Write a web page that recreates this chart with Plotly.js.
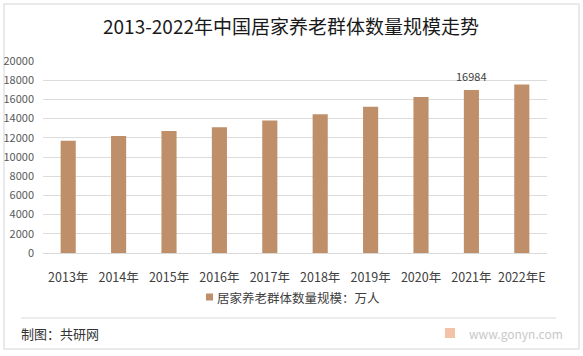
<!DOCTYPE html>
<html>
<head>
<meta charset="utf-8">
<script src="https://cdn.plot.ly/plotly-3.0.1.min.js"></script>
<style>html,body{margin:0;padding:0;background:#fff;}#chart{width:583px;height:356px;}</style>
</head>
<body>
<div id="chart"></div>
<script>
var categories = ["2013年","2014年","2015年","2016年","2017年","2018年","2019年","2020年","2021年","2022年E"];
var values = [11700, 12200, 12700, 13100, 13800, 14450, 15230, 16240, 16984, 17550];
var seriesName = "居家养老群体数量规模：万人";
var labelledIndex = 8;
var yTicks = [0,2000,4000,6000,8000,10000,12000,14000,16000,18000,20000];

var W = 583, H = 356, L = 43, R = 36, T = 61, B = 103;
var pw = W - L - R, ph = H - T - B;
function px(x){ return (x - L) / pw; }
function py(y){ return (H - B - y) / ph; }

var font = "'Noto Sans CJK SC', 'Noto Sans', sans-serif";
var barColor = "#BF8F6A";

var trace = {
  type: "bar",
  x: categories,
  y: values,
  name: seriesName,
  marker: {color: barColor},
  width: 0.3,
  showlegend: false
};

var layout = {
  width: W, height: H,
  margin: {l: L, r: R, t: T, b: B, pad: 0},
  paper_bgcolor: "#fff",
  plot_bgcolor: "#fff",
  font: {family: font, size: 12, color: "#404040"},
  title: {text: "2013-2022年中国居家养老群体数量规模走势", font: {size: 19, color: "#1a1a1a", family: font},
          x: px(291), xref: "paper", xanchor: "center", y: 1 - 27 / H, yanchor: "middle"},
  xaxis: {type: "category", showgrid: false, showline: true, linecolor: "#d9d9d9", linewidth: 1,
          ticks: "", ticklabelstandoff: 13, tickfont: {size: 12.5, color: "#404040"}, fixedrange: true},
  yaxis: {range: [0, 20000], tickvals: yTicks, ticktext: yTicks.map(String), showgrid: true,
          gridcolor: "#dcdcdc", gridwidth: 1, zeroline: false, showline: false, ticks: "",
          ticklabelstandoff: 8, tickfont: {size: 11, color: "#595959"}, fixedrange: true},
  bargap: 0.7,
  showlegend: false,
  annotations: [
    {x: categories[labelledIndex], y: values[labelledIndex], xref: "x", yref: "y", text: String(values[labelledIndex]),
     showarrow: false, yanchor: "bottom", yshift: 4, font: {size: 11, color: "#404040"}},
    {x: px(215), y: py(297), xref: "paper", yref: "paper", text: seriesName, showarrow: false,
     xanchor: "left", yanchor: "middle", font: {size: 12.5, color: "#404040"}},
    {x: px(19), y: py(333), xref: "paper", yref: "paper", text: "制图：共研网", showarrow: false,
     xanchor: "left", yanchor: "middle", font: {size: 13, color: "#333"}},
    {x: px(565), y: py(333), xref: "paper", yref: "paper", text: "www.gonyn.com", showarrow: false,
     xanchor: "right", yanchor: "middle", font: {size: 12, color: "#c8c8c8"}}
  ],
  shapes: [
    {type: "rect", xref: "paper", yref: "paper", x0: px(4), x1: px(579), y0: py(349), y1: py(4),
     line: {color: "#e3e3e3", width: 1.5}, fillcolor: "rgba(0,0,0,0)", layer: "below"},
    {type: "line", xref: "paper", yref: "paper", x0: px(21), x1: px(556), y0: py(318), y1: py(318),
     line: {color: "#d9d9d9", width: 1}},
    {type: "rect", xref: "paper", yref: "paper", x0: px(206), x1: px(213), y0: py(300.5), y1: py(293.5),
     line: {width: 0}, fillcolor: barColor},
    {type: "rect", xref: "paper", yref: "paper", x0: px(445), x1: px(455), y0: py(338), y1: py(328),
     line: {width: 0}, fillcolor: "rgba(230,120,60,0.45)"}
  ]
};

Plotly.newPlot("chart", [trace], layout, {staticPlot: true, displayModeBar: false});
</script>
</body>
</html>
